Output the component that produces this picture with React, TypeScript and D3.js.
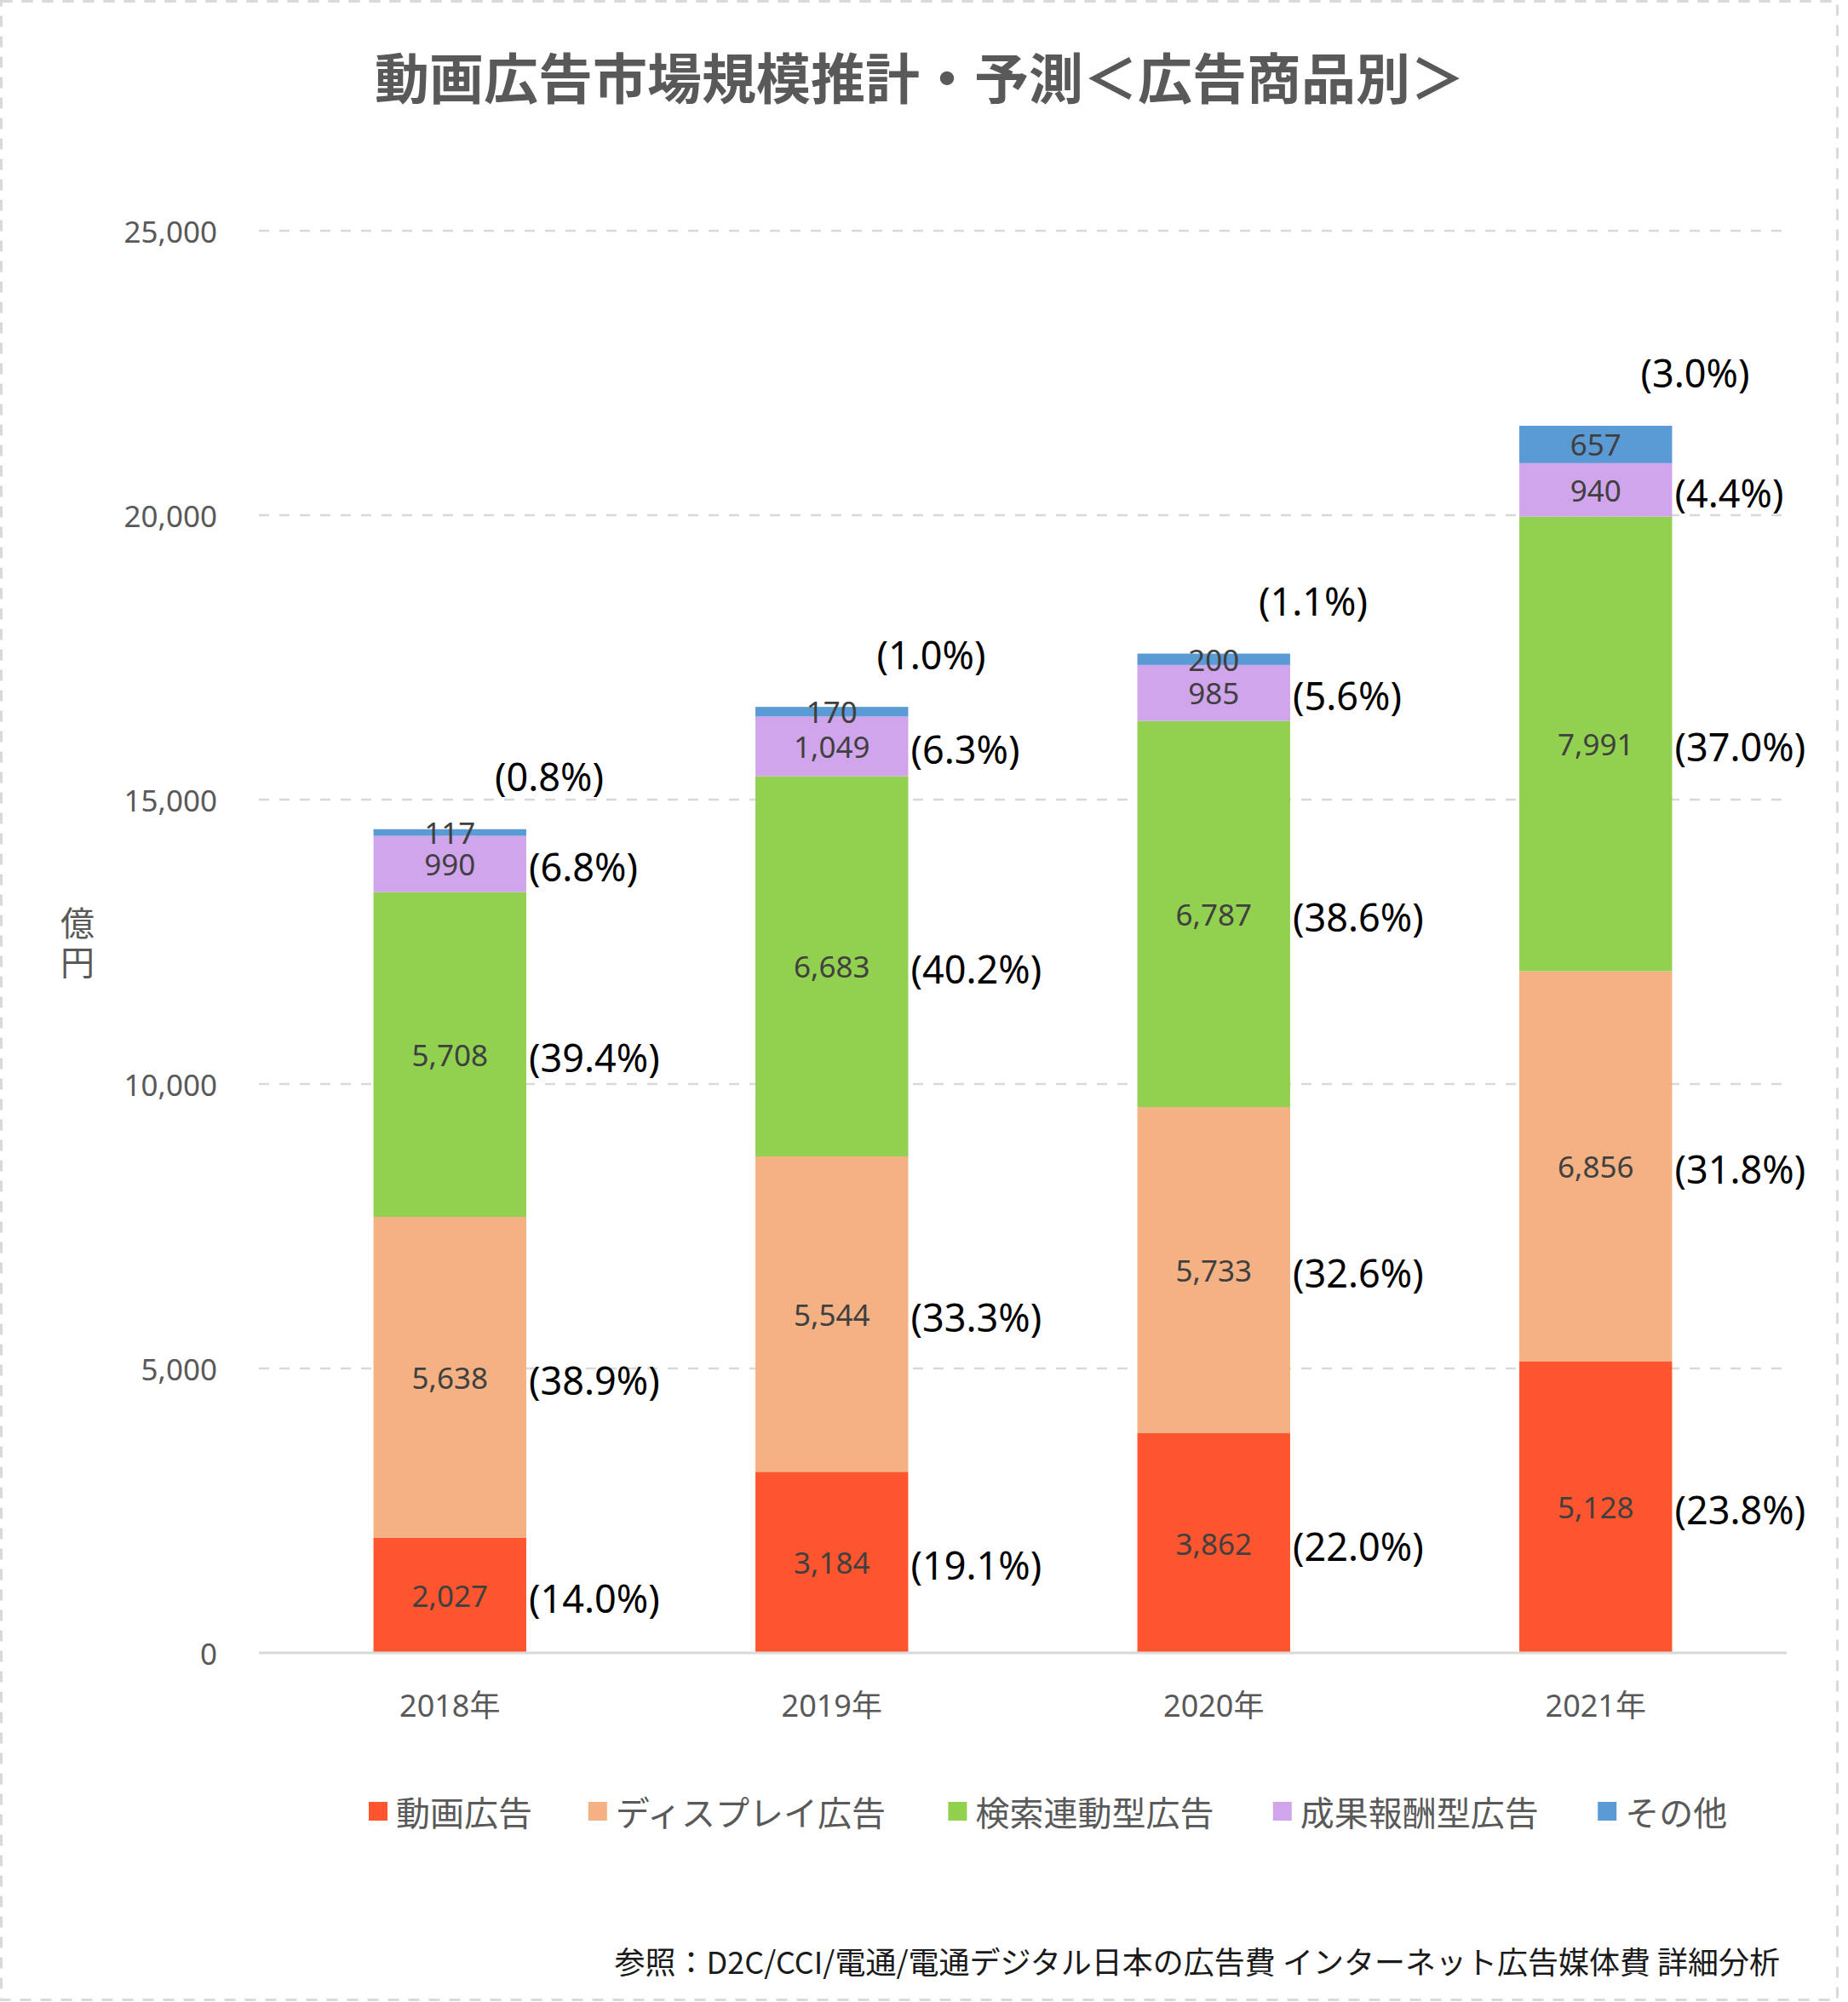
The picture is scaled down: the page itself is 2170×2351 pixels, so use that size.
import React from "react";
import * as d3 from "d3";

const years = ["2018年", "2019年", "2020年", "2021年"];
const seriesNames = ["動画広告", "ディスプレイ広告", "検索連動型広告", "成果報酬型広告", "その他"];
const videoAd = [2027, 3184, 3862, 5128];
const displayAd = [5638, 5544, 5733, 6856];
const searchAd = [5708, 6683, 6787, 7991];
const affiliateAd = [990, 1049, 985, 940];
const otherAd = [117, 170, 200, 657];
const videoShare = [14.0, 19.1, 22.0, 23.8];
const displayShare = [38.9, 33.3, 32.6, 31.8];
const searchShare = [39.4, 40.2, 38.6, 37.0];
const affiliateShare = [6.8, 6.3, 5.6, 4.4];
const otherShare = [0.8, 1.0, 1.1, 3.0];
const yTicks = [0, 5000, 10000, 15000, 20000, 25000];
const colors = ["#FD552E", "#F4B183", "#92D050", "#D1A5EC", "#5B9BD5"];

const W = 2170;
const H = 2351;
const FONT = "'Noto Sans', 'Noto Sans CJK JP', sans-serif";
const JP = "'Noto Sans CJK JP', 'Noto Sans', sans-serif";

export default function App() {
  const values = [videoAd, displayAd, searchAd, affiliateAd, otherAd];
  const shares = [videoShare, displayShare, searchShare, affiliateShare, otherShare];
  const rows = years.map((yr, i) => {
    const r: any = { year: yr };
    seriesNames.forEach((s, k) => (r[s] = values[k][i]));
    return r;
  });
  const stacked = d3.stack().keys(seriesNames)(rows);

  const x = d3.scaleBand().domain(years).range([304, 2098]).paddingInner(0.6).paddingOuter(0.3);
  const y = d3.scaleLinear().domain([0, 25000]).range([1941, 271]);
  const fmt = d3.format(",");

  const legendX: number[] = [];
  let lx = 433;
  seriesNames.forEach((s) => {
    legendX.push(lx);
    lx += s.length * 41.2 + 93;
  });

  return (
    <svg width={W} height={H} style={{ position: "absolute", left: 0, top: 0, background: "#fff" }}>
      <rect x={1.5} y={1.5} width={2156} height={2347} fill="#fff" stroke="#D9D9D9" strokeWidth={3} strokeDasharray="13,11" />
      <text x={1080} y={88} textAnchor="middle" dominantBaseline="central" fontFamily={JP} fontWeight="bold" fontSize={64} fill="#595959">
        動画広告市場規模推計・予測＜広告商品別＞
      </text>

      {yTicks.map((t) => (
        <g key={t}>
          {t > 0 && (
            <line x1={304} x2={2098} y1={y(t)} y2={y(t)} stroke="#D9D9D9" strokeWidth={2.5} strokeDasharray="12,12" />
          )}
          <text x={255} y={y(t)} textAnchor="end" dominantBaseline="central" fontFamily={FONT} fontSize={35} fill="#595959">
            {fmt(t)}
          </text>
        </g>
      ))}

      <text x={91} y={1082} textAnchor="middle" dominantBaseline="central" fontFamily={JP} fontSize={40} fill="#595959">億</text>
      <text x={91} y={1128} textAnchor="middle" dominantBaseline="central" fontFamily={JP} fontSize={40} fill="#595959">円</text>

      {stacked.map((layer, k) => (
        <g key={layer.key}>
          {layer.map((d, i) => (
            <rect key={i} x={x(years[i])} width={x.bandwidth()} y={y(d[1])} height={y(d[0]) - y(d[1])} fill={colors[k]} />
          ))}
        </g>
      ))}

      <line x1={304} x2={2098} y1={y(0)} y2={y(0)} stroke="#D9D9D9" strokeWidth={3} />

      {stacked.map((layer, k) => (
        <g key={"lab" + layer.key}>
          {layer.map((d, i) => {
            const cx = (x(years[i]) as number) + x.bandwidth() / 2;
            const cy = (y(d[0]) + y(d[1])) / 2;
            const right = (x(years[i]) as number) + x.bandwidth();
            const top = k === seriesNames.length - 1;
            return (
              <g key={i}>
                <text x={cx} y={cy} textAnchor="middle" dominantBaseline="central" fontFamily={FONT} fontSize={35} fill="#404040">
                  {fmt(values[k][i])}
                </text>
                {top ? (
                  <text x={right + 27} y={y(d[1]) - 62} textAnchor="middle" dominantBaseline="central" fontFamily={FONT} fontSize={45} fill="#000">
                    ({shares[k][i].toFixed(1)}%)
                  </text>
                ) : (
                  <text x={right + 3} y={cy + 3} textAnchor="start" dominantBaseline="central" fontFamily={FONT} fontSize={45} fill="#000">
                    ({shares[k][i].toFixed(1)}%)
                  </text>
                )}
              </g>
            );
          })}
        </g>
      ))}

      {years.map((yr) => (
        <text key={yr} x={(x(yr) as number) + x.bandwidth() / 2} y={2002} textAnchor="middle" dominantBaseline="central" fontFamily={FONT} fontSize={36} fill="#595959">
          {yr}
        </text>
      ))}

      {seriesNames.map((s, k) => (
        <g key={"leg" + s}>
          <rect x={legendX[k]} y={2116} width={22} height={22} fill={colors[k]} />
          <text x={legendX[k] + 32} y={2127} dominantBaseline="central" fontFamily={JP} fontSize={40} fill="#595959">
            {s}
          </text>
        </g>
      ))}

      <text x={2090} y={2302} textAnchor="end" dominantBaseline="central" fontFamily={JP} fontSize={36} fill="#1a1a1a">
        参照：D2C/CCI/電通/電通デジタル日本の広告費 インターネット広告媒体費 詳細分析
      </text>
    </svg>
  );
}
